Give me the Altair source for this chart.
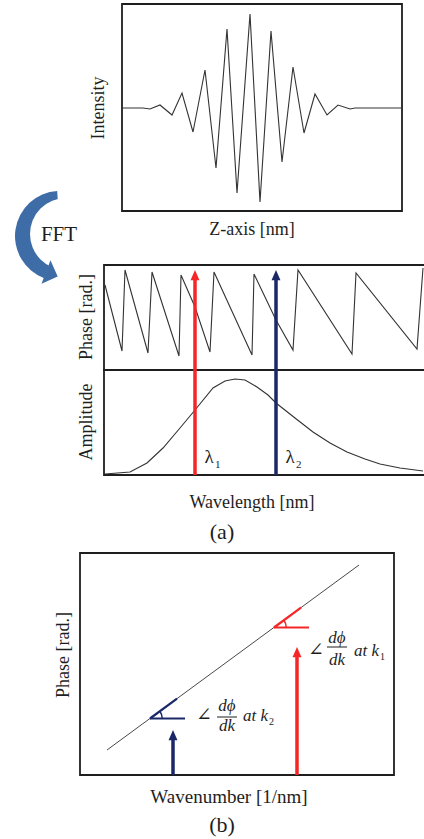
import altair as alt
import pandas as pd

SERIF = "Liberation Serif, DejaVu Serif, serif"
INK = "#1e1e1e"
LINE = "#333333"
RED = "#f42626"
NAVY = "#1b2868"
FFT_FILL = "#3d6ca6"

# ---------------- data ----------------
# (a) upper panel: interferogram, intensity vs Z position
z_pos = [0, 21, 28, 38, 50, 60, 71, 83, 94, 105, 115, 128, 138, 149, 160, 171,
         182, 193, 205, 216, 228, 233, 280]
intensity = [-0.5, -0.5, -1.5, 2.5, -7.5, 14.5, -24.5, 37.5, -60.5, 78.5, -85.5,
             93.5, -94.5, 76.5, -54.5, 40.5, -25.5, 13.5, -7.5, 2.5, -1.5, -0.5, -0.5]
z_range = [0, 280]
intensity_range = [-103.5, 103.5]

# (a) lower panel: wrapped phase and amplitude vs wavelength
wl_phase = [1, 18, 21, 44, 48, 75, 77, 91, 106, 110, 148, 150, 172, 189, 194,
            248, 252, 313, 319]
phase = [85, 19, 100, 17, 98, 14, 95, 63, 18, 98, 15, 96, 50, 20, 100, 16, 97, 21, 102]
wl_amp = [1, 26, 43, 59, 76, 91, 109, 121, 131, 141, 153, 164, 172, 191, 209, 226,
          243, 261, 276, 296, 319]
amplitude = [1, 3, 12, 27, 47, 65, 87, 94, 96, 95, 88, 80, 72, 57, 43, 32, 23, 16,
             11, 7, 4]
wl_range = [0, 322]
phase_range = [0, 105]
amp_range = [0, 105]
lambda_sub = ["1", "2"]
lambda_wl = [91, 172]
marker_range = [0, 210]
marker_top = 205

# (b): phase vs wavenumber
k_fit = [27, 279]
phi_fit = [25, 210]
k_range = [0, 314]
phi_range = [0, 222]
k_sub = ["1", "2"]
k_at = [217, 93]
k_tip = [128, 45]
k_vertex = [194, 70]
phi_vertex = [147.5, 56.5]

# ---------------- layout (pixel boxes of the panels) ----------------
TOP_X, TOP_Y = [122, 402], [211, 4]
MID_X = [104, 426]
PHASE_Y, AMP_Y, MARK_Y = [370, 265], [475, 370], [475, 265]
B_X, B_Y = [80, 394], [775, 553]

ONE = pd.DataFrame({"o": [0]})
ARROW_UP = "M0,0 L0.75,1.7 L-0.75,1.7 Z"
color_enc = alt.Color("sub:N", scale=alt.Scale(domain=["1", "2"], range=[RED, NAVY]), legend=None)


def sc(domain, rng):
    return alt.Scale(domain=domain, range=rng, nice=False, zero=False)


def frame(xd, yd, xs, ys):
    df = pd.DataFrame({"x0": [xd[0]], "x1": [xd[1]], "y0": [yd[0]], "y1": [yd[1]]})
    return alt.Chart(df).mark_rect(fill="transparent", stroke=INK, strokeWidth=1.8).encode(
        x=alt.X("x0:Q", scale=xs, axis=None), x2="x1:Q",
        y=alt.Y("y0:Q", scale=ys, axis=None), y2="y1:Q")


def curve(xv, yv, xs, ys, width=1.1):
    df = pd.DataFrame({"x": xv, "y": yv})
    return alt.Chart(df).mark_line(color=LINE, strokeWidth=width).encode(
        x=alt.X("x:Q", scale=xs, axis=None), y=alt.Y("y:Q", scale=ys, axis=None))


def label(txt, x, y, size=18, angle=0, style="normal", align="center"):
    return alt.Chart(ONE).mark_text(
        text=txt, font=SERIF, fontSize=size, angle=angle, fontStyle=style,
        color=INK, align=align, baseline="middle").encode(x=alt.value(x), y=alt.value(y))


# ---------------- top panel ----------------
xs_top, ys_top = sc(z_range, TOP_X), sc(intensity_range, TOP_Y)
top_panel = alt.layer(
    frame(z_range, intensity_range, xs_top, ys_top),
    curve(z_pos, intensity, xs_top, ys_top),
)

# ---------------- FFT curved arrow (crescent) ----------------
fft_sector = alt.Chart(ONE).mark_arc(
    theta=3.5, theta2=6.22, outerRadius=45, fill=FFT_FILL).encode(
    x=alt.value(60), y=alt.value(236))
fft_hole = alt.Chart(ONE).mark_arc(
    theta=0, theta2=6.2832, outerRadius=36, fill="white").encode(
    x=alt.value(66), y=alt.value(234))
fft_head = alt.Chart(ONE).mark_point(
    shape="M1,0 L0,-1 L0,1 Z", size=625, angle=21, filled=True, fill=FFT_FILL,
    opacity=1).encode(x=alt.value(46), y=alt.value(272))

# ---------------- middle panel ----------------
xs_mid = sc(wl_range, MID_X)
ys_ph, ys_am, ys_mk = sc(phase_range, PHASE_Y), sc(amp_range, AMP_Y), sc(marker_range, MARK_Y)
phase_layer = alt.layer(frame(wl_range, phase_range, xs_mid, ys_ph),
                        curve(wl_phase, phase, xs_mid, ys_ph))
amp_layer = alt.layer(frame(wl_range, amp_range, xs_mid, ys_am),
                      curve(wl_amp, amplitude, xs_mid, ys_am))
df_l = pd.DataFrame({"wl": lambda_wl, "sub": lambda_sub})
df_l["h0"] = marker_range[0]
df_l["h1"] = marker_top - 7
df_l["tip"] = marker_top
lx = alt.X("wl:Q", scale=xs_mid, axis=None)
mark_layer = alt.layer(
    alt.Chart(df_l).mark_rule(strokeWidth=3.5).encode(
        x=lx, y=alt.Y("h0:Q", scale=ys_mk, axis=None), y2="h1:Q", color=color_enc),
    alt.Chart(df_l).mark_point(shape=ARROW_UP, size=144, filled=True, opacity=1).encode(
        x=lx, y=alt.Y("tip:Q", scale=ys_mk, axis=None), color=color_enc),
    alt.Chart(df_l).mark_text(text="λ", font=SERIF, fontSize=19, dx=14, dy=-12,
                              baseline="alphabetic", color=INK).encode(
        x=lx, y=alt.Y("h0:Q", scale=ys_mk, axis=None)),
    alt.Chart(df_l).mark_text(font=SERIF, fontSize=11, dx=20, dy=-7, align="left",
                              baseline="alphabetic", color=INK).encode(
        x=lx, y=alt.Y("h0:Q", scale=ys_mk, axis=None), text="sub:N"),
)
mid_panel = alt.layer(phase_layer, amp_layer, mark_layer).resolve_scale(y="independent")

# ---------------- bottom panel (b) ----------------
xs_b, ys_b = sc(k_range, B_X), sc(phi_range, B_Y)
slope = (phi_fit[1] - phi_fit[0]) / (k_fit[1] - k_fit[0])
df_k = pd.DataFrame({"k": k_at, "tip": k_tip, "sub": k_sub, "vk": k_vertex, "vphi": phi_vertex})
df_k["base"] = 0
df_k["top"] = df_k["tip"] - 7
df_k["hk"] = df_k["vk"] + 35
df_k["ak"] = df_k["vk"] + 27
df_k["aphi"] = df_k["vphi"] + 27 * slope
bx = alt.X("k:Q", scale=xs_b, axis=None)
vx = alt.X("vk:Q", scale=xs_b, axis=None)
vy = alt.Y("vphi:Q", scale=ys_b, axis=None)
b_layers = [
    frame(k_range, phi_range, xs_b, ys_b),
    curve(k_fit, phi_fit, xs_b, ys_b, width=0.9),
    alt.Chart(df_k).mark_rule(strokeWidth=2.2).encode(x=vx, x2="hk:Q", y=vy, color=color_enc),
    alt.Chart(df_k).mark_rule(strokeWidth=2.2).encode(x=vx, x2="ak:Q", y=vy, y2="aphi:Q", color=color_enc),
    alt.Chart(df_k).mark_arc(theta=0.94, theta2=1.571, innerRadius=11.5, outerRadius=13).encode(
        x=vx, y=vy, color=color_enc),
    alt.Chart(df_k).mark_rule(strokeWidth=3.5).encode(
        x=bx, y=alt.Y("base:Q", scale=ys_b, axis=None), y2="top:Q", color=color_enc),
    alt.Chart(df_k).mark_point(shape=ARROW_UP, size=144, filled=True, opacity=1).encode(
        x=bx, y=alt.Y("tip:Q", scale=ys_b, axis=None), color=color_enc),
]

# annotation "∠ dϕ/dk at k_i", anchored on each arrow tip
ann_offsets = {
    "1": dict(ang=(19, 9), num=(40, -4), bar=(30, 50, 0), den=(40, 18), at=(57, 9), sub=(83, 13)),
    "2": dict(ang=(31, -9), num=(54, -19), bar=(44, 64, -13), den=(54, 1), at=(70, -9), sub=(96, -5)),
}
ty = alt.Y("tip:Q", scale=ys_b, axis=None)
for s, o in ann_offsets.items():
    d = df_k[df_k["sub"] == s]
    base = alt.Chart(d)
    b_layers += [
        base.mark_text(text="∠", font="DejaVu Serif", fontSize=19, dx=o["ang"][0], dy=o["ang"][1],
                       baseline="alphabetic", color=INK).encode(x=bx, y=ty),
        base.mark_text(text="dϕ", font=SERIF, fontSize=17, fontStyle="italic", dx=o["num"][0],
                       dy=o["num"][1], baseline="alphabetic", color=INK).encode(x=bx, y=ty),
        base.mark_rule(strokeWidth=1, color=INK, xOffset=o["bar"][0], x2Offset=o["bar"][1],
                       yOffset=o["bar"][2], y2Offset=o["bar"][2]).encode(x=bx, x2="k:Q", y=ty, y2="tip:Q"),
        base.mark_text(text="dk", font=SERIF, fontSize=17, fontStyle="italic", dx=o["den"][0],
                       dy=o["den"][1], baseline="alphabetic", color=INK).encode(x=bx, y=ty),
        base.mark_text(text="at k", font=SERIF, fontSize=17, fontStyle="italic", dx=o["at"][0],
                       dy=o["at"][1], align="left", baseline="alphabetic", color=INK).encode(x=bx, y=ty),
        base.mark_text(font=SERIF, fontSize=10, dx=o["sub"][0], dy=o["sub"][1], align="left",
                       baseline="alphabetic", color=INK).encode(x=bx, y=ty, text="sub:N"),
    ]
b_panel = alt.layer(*b_layers)

# ---------------- text labels ----------------
labels = [
    label("Intensity", 99, 108, angle=270),
    label("Z-axis [nm]", 252, 230),
    label("FFT", 59, 235, size=21),
    label("Phase [rad.]", 87, 317, angle=270),
    label("Amplitude", 87, 422, angle=270),
    label("Wavelength [nm]", 252, 503),
    label("(a)", 222, 532, size=22),
    label("Phase [rad.]", 64, 655, angle=270),
    label("Wavenumber [1/nm]", 229, 797, size=19),
    label("(b)", 222, 825, size=22),
]

chart = alt.layer(
    fft_sector, fft_hole, fft_head, top_panel, mid_panel, b_panel, *labels
).resolve_scale(x="independent", y="independent").properties(
    width=424, height=839, padding=0, background="white",
    autosize=alt.AutoSizeParams(type="none"),
).configure_view(strokeWidth=0)

chart.save("out.html", embed_options={"renderer": "svg", "actions": False})
